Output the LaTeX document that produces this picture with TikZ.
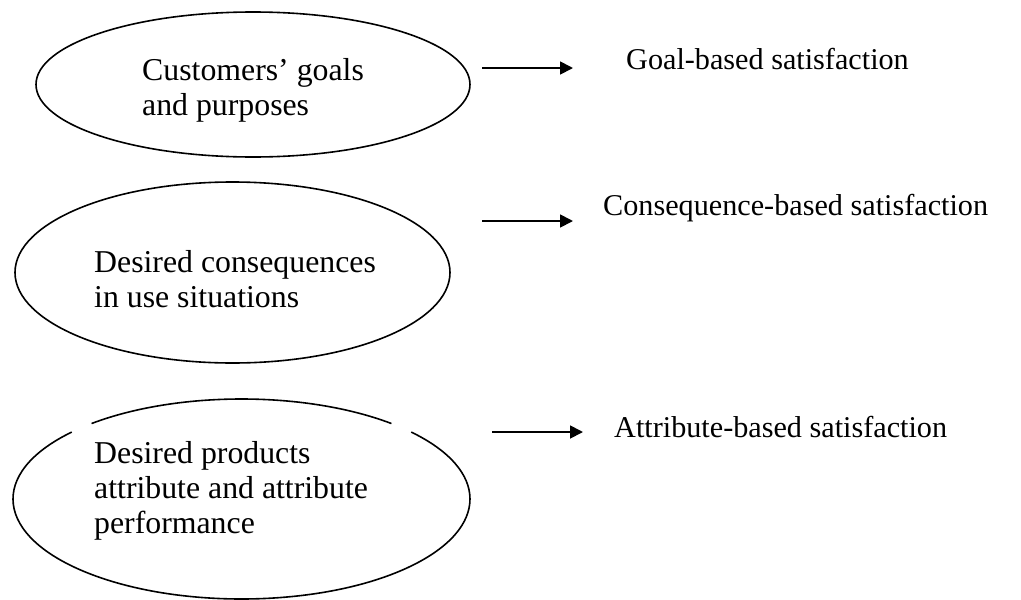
\documentclass[tikz,border=0pt]{standalone}
\usepackage{fontspec}
\setmainfont{Liberation Serif}
\usetikzlibrary{shapes.geometric,arrows.meta}
\tikzset{
  ell/.style={ellipse, draw, line width=1.6pt, inner sep=0pt, outer sep=0pt},
  ellnd/.style={ellipse, inner sep=0pt, outer sep=0pt},
  lefttxt/.style={anchor=base west, align=left, inner sep=0pt, font=\fontsize{31.8}{35}\selectfont},
  righttxt/.style={anchor=base west, inner sep=0pt, font=\fontsize{30.2}{35}\selectfont},
  arr/.style={line width=1.8pt, -{Triangle[length=13pt,width=13pt]}}
}
\begin{document}
\begin{tikzpicture}[x=1pt,y=1pt]
\useasboundingbox (0,0) rectangle (1021,-600);
% ellipses
\node[ell, minimum width=434pt, minimum height=145pt] (e1) at (253,-84.5) {};
\node[ell, minimum width=435pt, minimum height=181pt] (e2) at (232.5,-272.5) {};
\node[ellnd, minimum width=457pt, minimum height=200pt] (e3) at (241.5,-499) {};
\draw[line width=1.6pt] (e3.center) ++(49:228.5 and 100) arc[start angle=49, end angle=131, x radius=228.5, y radius=100];
\draw[line width=1.6pt] (e3.center) ++(138:228.5 and 100) arc[start angle=138, end angle=402, x radius=228.5, y radius=100];
% texts inside
\node[lefttxt] (l1) at (142,-115) {Customers’ goals\\and purposes};
\node[lefttxt] (l2) at (94,-307) {Desired consequences\\in use situations};
\node[lefttxt] (l3) at (94,-533) {Desired products\\attribute and attribute\\performance};
% right texts
\node[righttxt] (t1) at (626,-69) {Goal-based satisfaction};
\node[righttxt] (t2) at (603,-215) {Consequence-based satisfaction};
\node[righttxt] (t3) at (614,-437) {Attribute-based satisfaction};
% arrows
\draw[arr] ([xshift=12pt]e1.east |- 0,-68) -- ([xshift=-53pt]t1.west |- 0,-68);
\draw[arr] ([xshift=32pt]e2.east |- 0,-221) -- ([xshift=-30pt]t2.west |- 0,-221);
\draw[arr] ([xshift=22pt]e3.east |- 0,-432) -- ([xshift=-31pt]t3.west |- 0,-432);
\end{tikzpicture}
\end{document}
